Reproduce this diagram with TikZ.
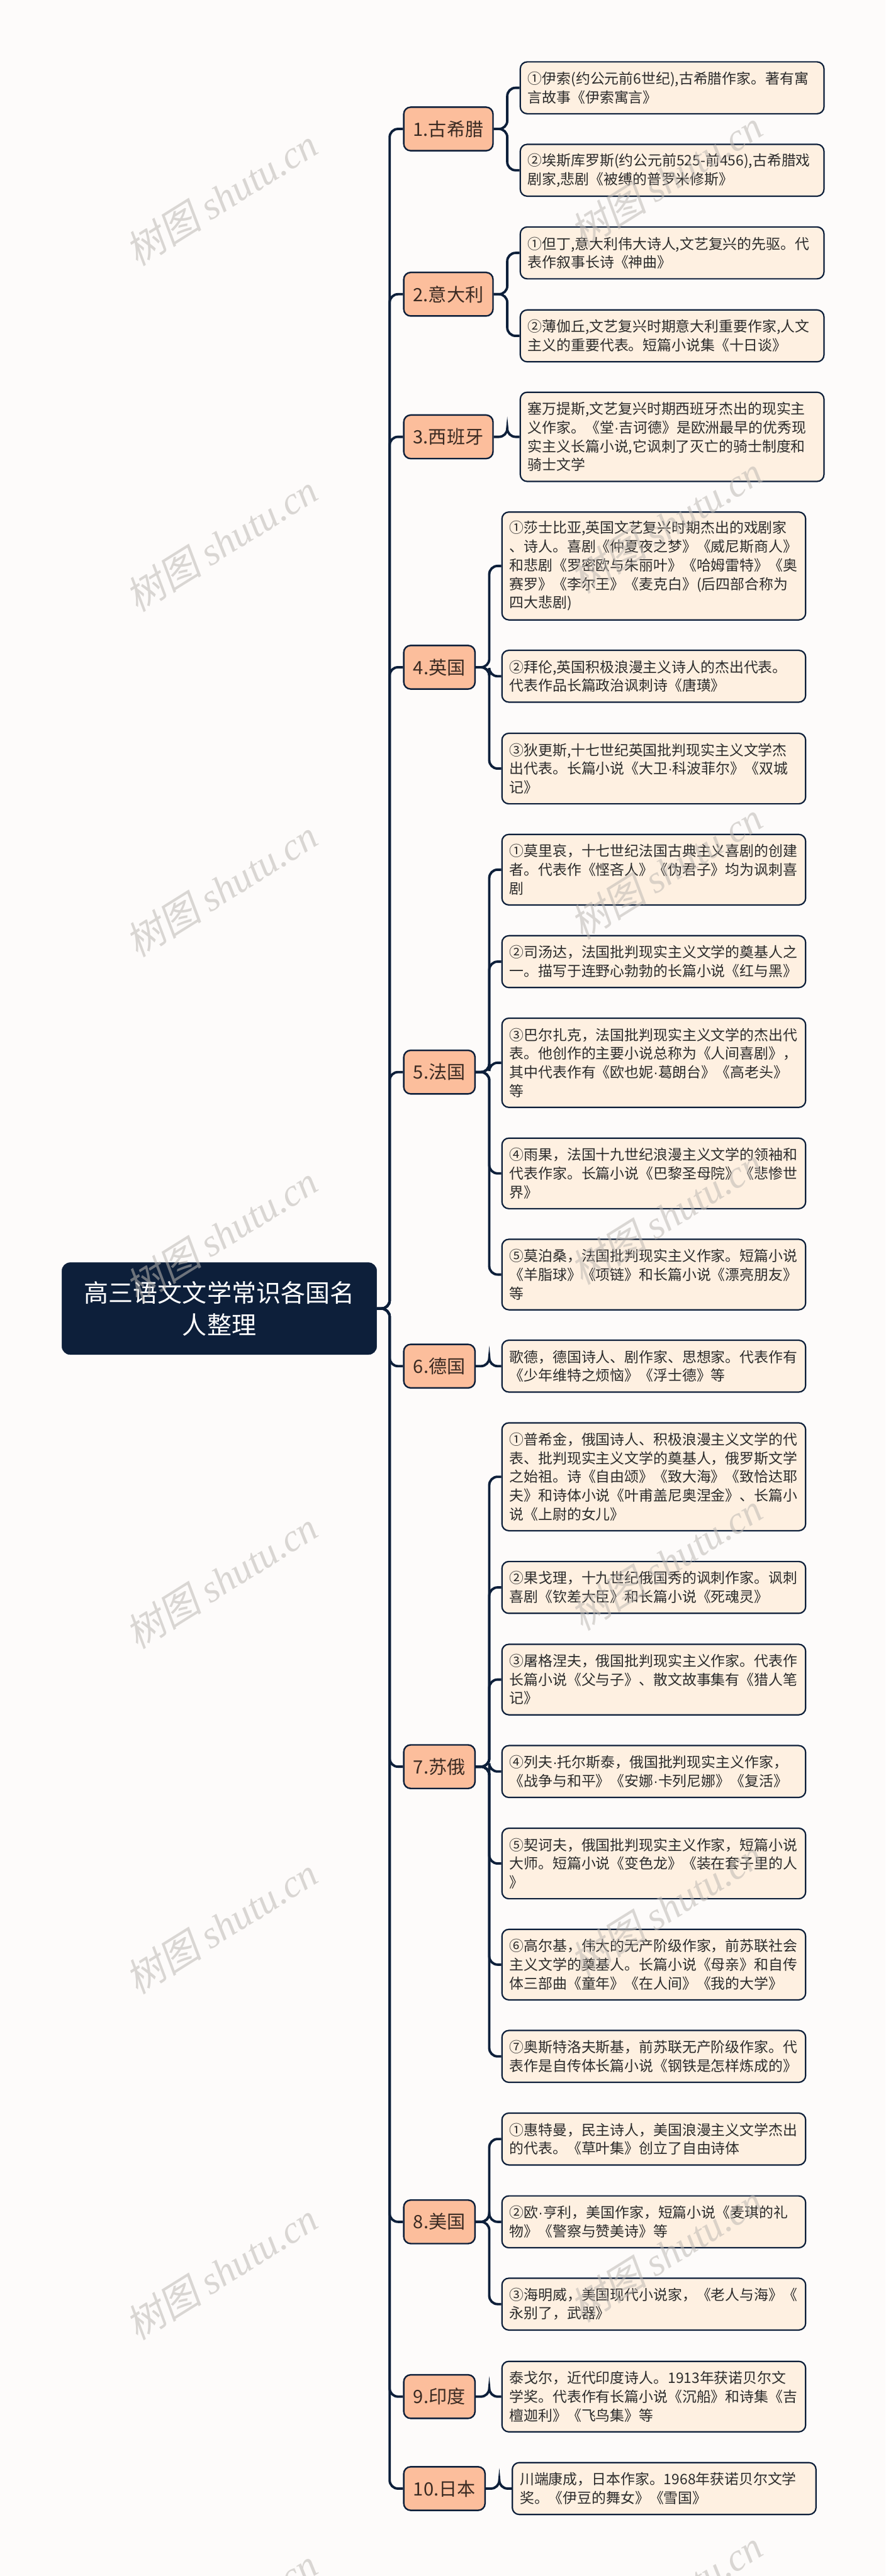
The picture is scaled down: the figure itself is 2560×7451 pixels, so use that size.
\documentclass[tikz,border=0pt]{standalone}
\usepackage{fontspec}
\setmainfont{Noto Sans CJK SC}
\newfontfamily\wmlat{Liberation Serif}
\newfontfamily\latf{Liberation Sans}
\newfontfamily\wmcjk[FakeSlant=0.2]{Noto Sans CJK SC}
\newcommand{\md}{{\latf ·}}
\definecolor{navy}{HTML}{0D1F3A}
\definecolor{boxfill}{HTML}{FEF0E1}
\definecolor{catfill}{HTML}{FCBE9C}
\definecolor{boxtext}{HTML}{2B2B2B}
\definecolor{cattext}{HTML}{3A2A22}
\definecolor{bgc}{HTML}{FDFBFA}
\definecolor{wmc}{HTML}{BDB8B3}
\pgfdeclarelayer{bg}
\pgfsetlayers{bg,main}
\begin{document}
\begin{tikzpicture}[x=0.5pt,y=-0.5pt,
  box/.style={draw=navy,line width=2pt,fill=boxfill,rounded corners=10pt,text width=417pt,inner xsep=11pt,inner ysep=0pt,align=left,anchor=west,text=boxtext,font=\fontsize{20.8pt}{27pt}\selectfont},
  ln2/.style={minimum height=75pt}, ln3/.style={minimum height=102pt},
  ln4/.style={minimum height=129pt}, ln5/.style={minimum height=156pt},
  cat/.style={draw=navy,line width=2.2pt,fill=catfill,rounded corners=10pt,minimum height=63pt,inner sep=0pt,anchor=west,text=cattext,font=\fontsize{26.5pt}{32pt}\selectfont},
  catw/.style={cat,minimum width=129pt}, catn/.style={cat,minimum width=103pt},
  conn/.style={draw=navy,line width=3.5pt,rounded corners=12pt},
  wm/.style={rotate=32,text=wmc,font=\fontsize{56pt}{60pt}\selectfont,opacity=0.55}]
\useasboundingbox (0,0) rectangle (2560,7451);

% root
\node[draw=navy,fill=navy,rounded corners=12pt,minimum width=455pt,minimum height=133pt,text=white,align=center,font=\fontsize{35.5pt}{46pt}\selectfont] (root) at (634,3785) {高三语文文学常识各国名\\人整理};

% categories
\node[catw] (c1) at (1165,373) {1.古希腊};
\node[catw] (c2) at (1165,851) {2.意大利};
\node[catw] (c3) at (1165,1263.5) {3.西班牙};
\node[catn] (c4) at (1165,1930) {4.英国};
\node[catn] (c5) at (1165,3101) {5.法国};
\node[catn] (c6) at (1165,3951.5) {6.德国};
\node[catn] (c7) at (1165,5110) {7.苏俄};
\node[catn] (c8) at (1165,6426.5) {8.美国};
\node[catn] (c9) at (1165,6932) {9.印度};
\node[cat,minimum width=117.5pt] (c10) at (1165,7198) {10.日本};

% leaves
\node[box,ln2] (b1a) at (1502,254) {①伊索(约公元前6世纪),古希腊作家。著有寓\\言故事《伊索寓言》};
\node[box,ln2] (b1b) at (1502,492.5) {②埃斯库罗斯(约公元前525-前456),古希腊戏\\剧家,悲剧《被缚的普罗米修斯》};
\node[box,ln2] (b2a) at (1502,731.5) {①但丁,意大利伟大诗人,文艺复兴的先驱。代\\表作叙事长诗《神曲》};
\node[box,ln2] (b2b) at (1502,971.5) {②薄伽丘,文艺复兴时期意大利重要作家,人文\\主义的重要代表。短篇小说集《十日谈》};
\node[box,ln4] (b3) at (1502,1263.5) {塞万提斯,文艺复兴时期西班牙杰出的现实主\\义作家。《堂\md 吉诃德》是欧洲最早的优秀现\\实主义长篇小说,它讽刺了灭亡的骑士制度和\\骑士文学};

\node[box,ln5] (b4a) at (1449,1637) {①莎士比亚,英国文艺复兴时期杰出的戏剧家\\、诗人。喜剧《仲夏夜之梦》《威尼斯商人》\\和悲剧《罗密欧与朱丽叶》《哈姆雷特》《奥\\赛罗》《李尔王》《麦克白》(后四部合称为\\四大悲剧)};
\node[box,ln2] (b4b) at (1449,1956) {②拜伦,英国积极浪漫主义诗人的杰出代表。\\代表作品长篇政治讽刺诗《唐璜》};
\node[box,ln3] (b4c) at (1449,2223) {③狄更斯,十七世纪英国批判现实主义文学杰\\出代表。长篇小说《大卫\md 科波菲尔》《双城\\记》};

\node[box,ln3] (b5a) at (1449,2515.5) {①莫里哀，十七世纪法国古典主义喜剧的创建\\者。代表作《悭吝人》《伪君子》均为讽刺喜\\剧};
\node[box,ln2] (b5b) at (1449,2781.5) {②司汤达，法国批判现实主义文学的奠基人之\\一。描写于连野心勃勃的长篇小说《红与黑》};
\node[box,ln4] (b5c) at (1449,3074) {③巴尔扎克，法国批判现实主义文学的杰出代\\表。他创作的主要小说总称为《人间喜剧》，\\其中代表作有《欧也妮\md 葛朗台》《高老头》\\等};
\node[box,ln3] (b5d) at (1449,3394) {④雨果，法国十九世纪浪漫主义文学的领袖和\\代表作家。长篇小说《巴黎圣母院》《悲惨世\\界》};
\node[box,ln3] (b5e) at (1449,3686.5) {⑤莫泊桑，法国批判现实主义作家。短篇小说\\《羊脂球》《项链》和长篇小说《漂亮朋友》\\等};

\node[box,ln2] (b6) at (1449,3951.5) {歌德，德国诗人、剧作家、思想家。代表作有\\《少年维特之烦恼》《浮士德》等};

\node[box,ln5] (b7a) at (1449,4271.5) {①普希金，俄国诗人、积极浪漫主义文学的代\\表、批判现实主义文学的奠基人，俄罗斯文学\\之始祖。诗《自由颂》《致大海》《致恰达耶\\夫》和诗体小说《叶甫盖尼奥涅金》、长篇小\\说《上尉的女儿》};
\node[box,ln2] (b7b) at (1449,4591.5) {②果戈理，十九世纪俄国秀的讽刺作家。讽刺\\喜剧《钦差大臣》和长篇小说《死魂灵》};
\node[box,ln3] (b7c) at (1449,4858) {③屠格涅夫，俄国批判现实主义作家。代表作\\长篇小说《父与子》、散文故事集有《猎人笔\\记》};
\node[box,ln2] (b7d) at (1449,5124) {④列夫\md 托尔斯泰，俄国批判现实主义作家，\\《战争与和平》《安娜\md 卡列尼娜》《复活》};
\node[box,ln3] (b7e) at (1449,5390) {⑤契诃夫，俄国批判现实主义作家，短篇小说\\大师。短篇小说《变色龙》《装在套子里的人\\》};
\node[box,ln3] (b7f) at (1449,5682.5) {⑥高尔基，伟大的无产阶级作家，前苏联社会\\主义文学的奠基人。长篇小说《母亲》和自传\\体三部曲《童年》《在人间》《我的大学》};
\node[box,ln2] (b7g) at (1449,5948) {⑦奥斯特洛夫斯基，前苏联无产阶级作家。代\\表作是自传体长篇小说《钢铁是怎样炼成的》};

\node[box,ln2] (b8a) at (1449,6187) {①惠特曼，民主诗人，美国浪漫主义文学杰出\\的代表。《草叶集》创立了自由诗体};
\node[box,ln2] (b8b) at (1449,6426.5) {②欧\md 亨利，美国作家，短篇小说《麦琪的礼\\物》《警察与赞美诗》等};
\node[box,ln2] (b8c) at (1449,6664.5) {③海明威，美国现代小说家，《老人与海》《\\永别了，武器》};

\node[box,ln3] (b9) at (1449,6932) {泰戈尔，近代印度诗人。1913年获诺贝尔文\\学奖。代表作有长篇小说《沉船》和诗集《吉\\檀迦利》《飞鸟集》等};
\node[box,ln2] (b10) at (1479,7198) {川端康成，日本作家。1968年获诺贝尔文学\\奖。《伊豆的舞女》《雪国》};

% watermarks
\foreach \k in {0,...,7}{
  \node[wm] (wl\k) at (640,570+1000*\k) {\wmcjk 树图 {\wmlat\itshape shutu.cn}};
  \node[wm] (wr\k) at (1926,518+1000*\k) {\wmcjk 树图 {\wmlat\itshape shutu.cn}};
}

\begin{pgfonlayer}{bg}
\fill[bgc] (0,0) rectangle (2560,7451);
\foreach \c in {c1,c2,c3,c4,c5,c6,c7,c8,c9,c10}{
  \draw[conn] (root.east) -- ++(37,0) |- (\c.west);
}
\foreach \c/\b in {c1/b1a,c1/b1b,c2/b2a,c2/b2b,c3/b3,c4/b4a,c4/b4b,c4/b4c,c5/b5a,c5/b5b,c5/b5c,c5/b5d,c5/b5e,c6/b6,c7/b7a,c7/b7b,c7/b7c,c7/b7d,c7/b7e,c7/b7f,c7/b7g,c8/b8a,c8/b8b,c8/b8c,c9/b9,c10/b10}{
  \draw[conn] (\c.east) -- ++(39,0) |- (\b.west);
}
\end{pgfonlayer}
\end{tikzpicture}
\end{document}
